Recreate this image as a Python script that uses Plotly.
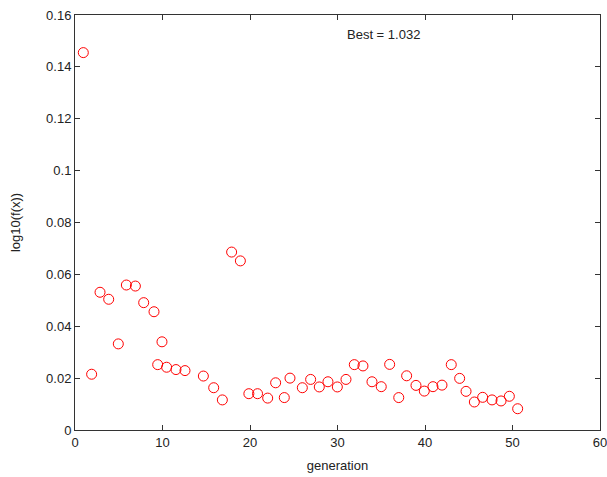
import plotly.graph_objects as go

generation = [0.95, 1.9, 2.86, 3.85, 4.95, 5.87, 6.9, 7.85, 9.03, 9.45,
              9.94, 10.47, 11.54, 12.57, 14.67, 15.85, 16.84, 17.9, 18.9, 19.87,
              20.86, 22.02, 22.93, 23.92, 24.57, 25.98, 26.93, 27.92, 28.91, 29.98,
              30.97, 31.92, 32.91, 33.94, 35.0, 35.96, 37.0, 37.9, 38.97, 39.92,
              40.91, 41.94, 43.0, 43.96, 44.69, 45.64, 46.59, 47.66, 48.69, 49.64,
              50.59]
log10_fx = [0.1455, 0.0215, 0.0531, 0.0504, 0.0332, 0.0559, 0.0555, 0.0491, 0.0456, 0.0252,
            0.0340, 0.0242, 0.0233, 0.0229, 0.0208, 0.0163, 0.0116, 0.0686, 0.0652, 0.0140,
            0.0140, 0.0123, 0.0182, 0.0125, 0.0200, 0.0163, 0.0195, 0.0166, 0.0186, 0.0166,
            0.0195, 0.0252, 0.0247, 0.0186, 0.0167, 0.0253, 0.0125, 0.0209, 0.0172, 0.0150,
            0.0167, 0.0173, 0.0252, 0.0199, 0.0149, 0.0108, 0.0126, 0.0116, 0.0112, 0.0130,
            0.0082]
best_text = "Best = 1.032"

fig = go.Figure()
fig.add_trace(go.Scatter(
    x=generation, y=log10_fx, mode="markers",
    marker=dict(symbol="circle-open", size=10, color="red", line=dict(width=1, color="red")),
    showlegend=False,
))

font = dict(family="Liberation Sans, Arial, sans-serif", size=13, color="#222222")
axis_common = dict(
    showline=True, linecolor="#333333", linewidth=1, mirror="ticks",
    ticks="inside", ticklen=5, tickcolor="#333333", showgrid=False, zeroline=False,
    tickfont=font, automargin=False, ticklabeloverflow="allow",
)
fig.update_xaxes(range=[0, 60], dtick=10, tick0=0,
                 title=dict(text="generation", font=font, standoff=12), **axis_common)
fig.update_yaxes(range=[0, 0.16], dtick=0.02, tick0=0,
                 title=dict(text="log10(f(x))", font=font, standoff=22), **axis_common)

fig.add_annotation(x=0.5867, y=0.952, xref="paper", yref="paper", text=best_text,
                   showarrow=False, font=font, xanchor="center", yanchor="middle")

fig.update_layout(
    width=607, height=477,
    margin=dict(l=75, r=7, t=15, b=47),
    paper_bgcolor="white", plot_bgcolor="white",
    font=font,
)
# remove the browser's default 8px body margin so the figure fills the window
fig.write_html("out.html", config={"displayModeBar": False},
               post_script="document.body.style.margin='0';document.body.style.overflow='hidden';")
